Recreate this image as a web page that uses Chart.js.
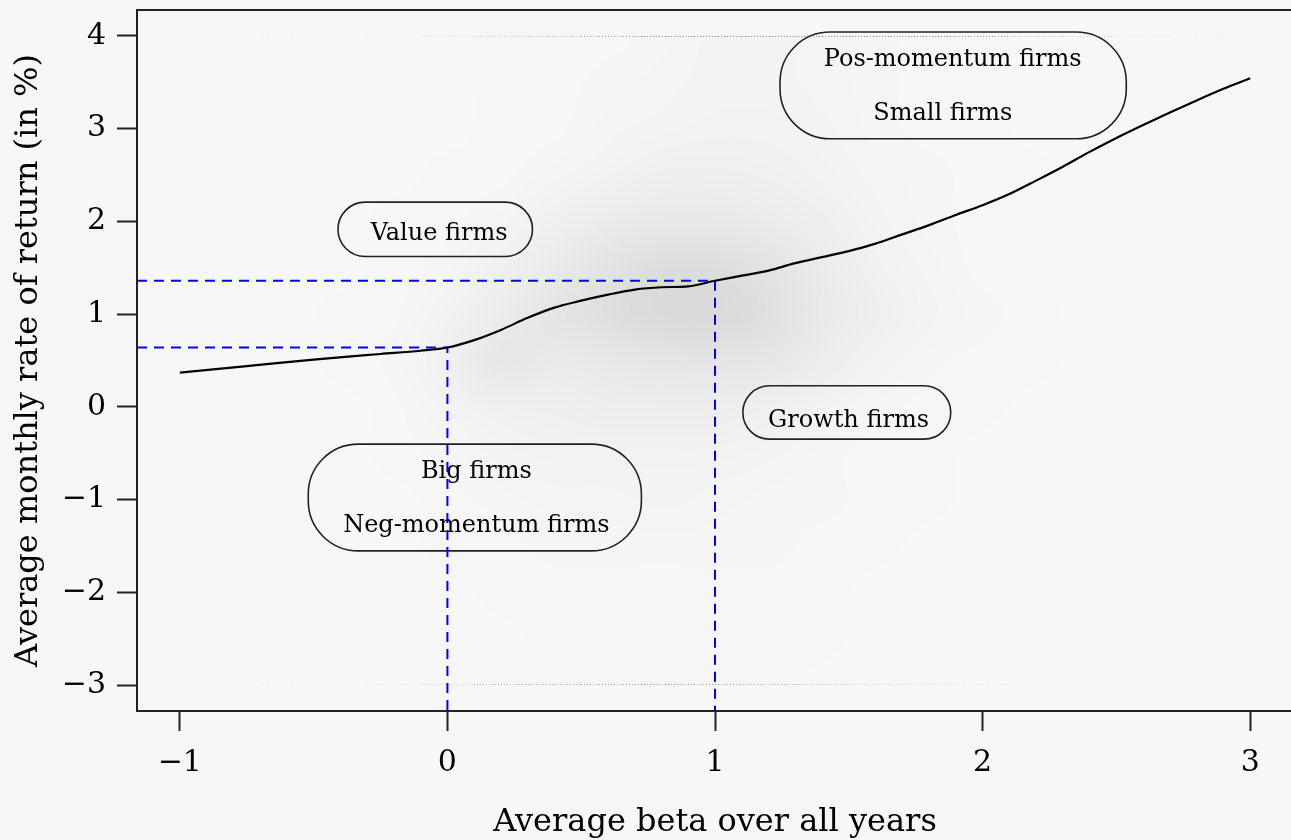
<!DOCTYPE html>
<html lang="en">
<head>
<meta charset="UTF-8">
<title>Average beta and average monthly return</title>
<style>
  html, body { margin: 0; padding: 0; background: #f7f7f7; overflow: hidden; }
  #wrap { width: 1300px; height: 840px; }
</style>
</head>
<body>
<div id="wrap"><canvas id="scatter" width="1300" height="840"></canvas></div>
<script src="https://cdn.jsdelivr.net/npm/chart.js@4.4.1/dist/chart.umd.min.js"></script>
<script>
const serif = '"DejaVu Serif", "Liberation Serif", serif'
const paper = 247

// axis limits (data range plus 4% on each side)
const xMin = -1.16, xMax = 3.16
const yMin = -3.28, yMax = 4.28
const xTicks = [-1, 0, 1, 2, 3]
const yTicks = [-3, -2, -1, 0, 1, 2, 3, 4]

// smoothed fit of return on beta
const curveBeta = [-1.0, -0.75, -0.5, -0.25, -0.1, 0.0, 0.1, 0.2, 0.3, 0.4, 0.5, 0.6, 0.7, 0.8, 0.9, 1.0,
  1.1, 1.2, 1.3, 1.4, 1.5, 1.6, 1.7, 1.8, 1.9, 2.0, 2.1, 2.2, 2.3, 2.4, 2.5, 2.6, 2.7, 2.8, 2.9, 3.0]
const curveReturn = [0.37, 0.44, 0.51, 0.57, 0.605, 0.64, 0.72, 0.83, 0.96, 1.07, 1.145, 1.21, 1.265, 1.29, 1.30, 1.36,
  1.415, 1.47, 1.55, 1.615, 1.68, 1.76, 1.86, 1.96, 2.07, 2.175, 2.295, 2.44, 2.59, 2.75, 2.90, 3.04, 3.175, 3.305, 3.43, 3.545]

// reference betas and the fitted return at each
const guideBeta = [0, 1]
const guideReturn = [0.64, 1.36]

// firm cloud: share of covered pixels (%) per cell, rows from top to bottom
const cloudBeta = [-1.0, -0.8, -0.6, -0.4, -0.2, 0.0, 0.2, 0.4, 0.6, 0.8, 1.0, 1.2, 1.4, 1.6, 1.8, 2.0, 2.2, 2.4, 2.6, 2.8, 3.0]
const cloudReturn = [4.0, 3.5, 3.0, 2.5, 2.0, 1.5, 1.0, 0.5, 0.0, -0.5, -1.0, -1.5, -2.0, -2.5, -3.0]
const cloudShare = [
  [0.1, 0.1, 0.2, 0.2, 0.2, 0.3, 0.5, 0.8, 1.2, 2.0, 3.0, 3.0, 2.2, 1.5, 1.0, 0.6, 0.4, 0.3, 0.2, 0.2, 0.1],
  [0.1, 0.1, 0.1, 0.2, 0.2, 0.3, 0.5, 0.8, 1.5, 2.5, 3.5, 3.5, 2.5, 1.6, 1.0, 0.6, 0.4, 0.3, 0.2, 0.1, 0.1],
  [0.1, 0.1, 0.1, 0.2, 0.2, 0.4, 0.7, 1.2, 2.2, 3.5, 4.5, 4.5, 3.2, 2.0, 1.2, 0.7, 0.4, 0.3, 0.2, 0.1, 0.1],
  [0.1, 0.1, 0.2, 0.2, 0.3, 0.6, 1.2, 2.5, 4.5, 6.5, 7.0, 6.0, 4.0, 2.5, 1.4, 0.8, 0.5, 0.3, 0.2, 0.1, 0.1],
  [0.1, 0.1, 0.2, 0.3, 0.5, 1.0, 2.5, 6.0, 10, 13, 13, 10, 6.5, 3.5, 2.0, 1.0, 0.6, 0.3, 0.2, 0.1, 0.1],
  [0.1, 0.2, 0.2, 0.4, 0.8, 2.0, 5.5, 11, 17, 22, 22, 17, 10, 5.0, 2.5, 1.2, 0.6, 0.3, 0.2, 0.1, 0.1],
  [0.1, 0.2, 0.3, 0.5, 1.2, 4.0, 9.0, 16, 21, 25, 25, 20, 12, 6.5, 3.0, 1.3, 0.6, 0.3, 0.2, 0.1, 0.1],
  [0.1, 0.2, 0.3, 0.6, 1.5, 6.0, 15, 11, 13, 15, 16, 14, 8.5, 4.0, 2.0, 1.0, 0.5, 0.3, 0.2, 0.1, 0.1],
  [0.1, 0.1, 0.2, 0.4, 1.0, 3.0, 6.0, 7.0, 8.0, 8.5, 8.0, 6.0, 4.0, 2.0, 1.0, 0.6, 0.3, 0.2, 0.1, 0.1, 0.1],
  [0.1, 0.1, 0.1, 0.2, 0.5, 1.5, 3.0, 4.0, 4.5, 4.5, 4.0, 3.0, 2.0, 1.2, 0.7, 0.4, 0.2, 0.1, 0.1, 0.1, 0.1],
  [0.1, 0.1, 0.1, 0.2, 0.3, 0.8, 1.5, 2.2, 2.8, 3.0, 2.5, 2.0, 1.4, 0.9, 0.5, 0.3, 0.2, 0.1, 0.1, 0.1, 0.1],
  [0.1, 0.1, 0.1, 0.1, 0.2, 0.5, 1.0, 1.5, 1.8, 2.0, 1.8, 1.4, 1.0, 0.6, 0.4, 0.2, 0.1, 0.1, 0.1, 0.1, 0.1],
  [0.1, 0.1, 0.1, 0.1, 0.2, 0.3, 0.6, 0.9, 1.1, 1.2, 1.1, 0.9, 0.7, 0.4, 0.3, 0.2, 0.1, 0.1, 0.1, 0.1, 0.1],
  [0.1, 0.1, 0.1, 0.1, 0.1, 0.2, 0.4, 0.6, 0.7, 0.8, 0.8, 0.6, 0.5, 0.3, 0.2, 0.1, 0.1, 0.1, 0.1, 0.1, 0.1],
  [0.1, 0.1, 0.1, 0.1, 0.1, 0.2, 0.3, 0.5, 0.6, 0.7, 0.6, 0.5, 0.4, 0.3, 0.2, 0.1, 0.1, 0.1, 0.1, 0.1, 0.1]
]
// firms cut off at the upper (4%) and lower (-3%) limits, share per beta cell (%)
const edgeTop = [1, 2, 3, 3, 4, 6, 10, 14, 20, 30, 35, 35, 30, 28, 25, 20, 12, 8, 5, 3, 2]
const edgeBottom = [2, 2, 3, 3, 4, 8, 14, 18, 20, 22, 20, 16, 12, 8, 6, 4, 2, 2, 1, 1, 1]

// labelled groups: box corners and text baselines in data units
const notes = [
  { box: [1.243, 4.042, 2.537, 2.891], lines: [['Pos-momentum firms', 1.888, 3.671], ['Small firms', 1.851, 3.096]] },
  { box: [-0.409, 2.208, 0.318, 1.622], lines: [['Value firms', -0.031, 1.801]] },
  { box: [1.104, 0.227, 1.881, -0.348], lines: [['Growth firms', 1.499, -0.213]] },
  { box: [-0.520, -0.402, 0.725, -1.553], lines: [['Big firms', 0.108, -0.769], ['Neg-momentum firms', 0.108, -1.345]] }
]

const fmt = v => (v < 0 ? '\u2212' + Math.abs(v) : String(v))

const cloudPlugin = {
  id: 'cloud',
  beforeDatasetsDraw(chart) {
    const { ctx, scales: { x, y } } = chart
    const halfX = (cloudBeta[1] - cloudBeta[0]) / 2
    const halfY = (cloudReturn[0] - cloudReturn[1]) / 2

    // one pixel per cell, stretched smoothly over the cloud's extent
    const grid = document.createElement('canvas')
    grid.width = cloudBeta.length
    grid.height = cloudReturn.length
    const g = grid.getContext('2d')
    cloudReturn.forEach((r, i) => {
      cloudBeta.forEach((b, j) => {
        const c = Math.round(paper - (paper - 128) * cloudShare[i][j] / 100)
        g.fillStyle = 'rgb(' + c + ',' + c + ',' + c + ')'
        g.fillRect(j, i, 1, 1)
      })
    })
    const gx0 = x.getPixelForValue(cloudBeta[0] - halfX)
    const gx1 = x.getPixelForValue(cloudBeta[cloudBeta.length - 1] + halfX)
    const gy0 = y.getPixelForValue(cloudReturn[0] + halfY)
    const gy1 = y.getPixelForValue(cloudReturn[cloudReturn.length - 1] - halfY)

    const left = x.getPixelForValue(-1), right = x.getPixelForValue(3)
    const top = y.getPixelForValue(4), bottom = y.getPixelForValue(-3)
    ctx.save()
    ctx.beginPath()
    ctx.rect(left - 1, top - 1, right - left + 2, bottom - top + 2)
    ctx.clip()
    ctx.imageSmoothingEnabled = true
    ctx.imageSmoothingQuality = 'high'
    ctx.filter = 'blur(6px)'
    ctx.drawImage(grid, gx0, gy0, gx1 - gx0, gy1 - gy0)
    ctx.filter = 'none'
    // rows of clipped firms along the limits
    ctx.setLineDash([1, 2])
    ctx.lineWidth = 1
    cloudBeta.forEach((b, j) => {
      const x0 = x.getPixelForValue(Math.max(b - halfX, -1)), x1 = x.getPixelForValue(Math.min(b + halfX, 3))
      ctx.strokeStyle = 'rgba(128,128,128,' + Math.min(1, edgeTop[j] / 25) + ')'
      ctx.beginPath(); ctx.moveTo(x0, top + 0.5); ctx.lineTo(x1, top + 0.5); ctx.stroke()
      ctx.strokeStyle = 'rgba(128,128,128,' + Math.min(1, edgeBottom[j] / 25) + ')'
      ctx.beginPath(); ctx.moveTo(x0, bottom - 0.5); ctx.lineTo(x1, bottom - 0.5); ctx.stroke()
    })
    ctx.restore()

    // group labels
    ctx.save()
    ctx.strokeStyle = '#222'
    ctx.lineWidth = 1.6
    ctx.fillStyle = '#000'
    ctx.font = '24px ' + serif
    ctx.textAlign = 'center'
    ctx.textBaseline = 'alphabetic'
    notes.forEach(n => {
      const bx0 = x.getPixelForValue(n.box[0]), by0 = y.getPixelForValue(n.box[1])
      const bx1 = x.getPixelForValue(n.box[2]), by1 = y.getPixelForValue(n.box[3])
      const h = by1 - by0
      ctx.beginPath()
      ctx.roundRect(bx0, by0, bx1 - bx0, h, Math.min(h / 2, 50))
      ctx.stroke()
      n.lines.forEach(([text, tx, ty]) => ctx.fillText(text, x.getPixelForValue(tx), y.getPixelForValue(ty)))
    })
    ctx.restore()
  }
}

const framePlugin = {
  id: 'frame',
  afterDraw(chart) {
    const { ctx, chartArea: a } = chart
    ctx.save()
    ctx.strokeStyle = '#222'
    ctx.lineWidth = 2
    ctx.strokeRect(a.left, a.top, a.right - a.left, a.bottom - a.top)
    ctx.restore()
  }
}

const guideSets = guideBeta.map((b, i) => ({
  type: 'line',
  data: [{ x: xMin, y: guideReturn[i] }, { x: b, y: guideReturn[i] }, { x: b, y: yMin }],
  borderColor: '#0000ff',
  borderWidth: 2,
  borderDash: [10, 7],
  pointRadius: 0,
  tension: 0,
  fill: false
}))

const curveSet = {
  type: 'line',
  data: curveBeta.map((b, i) => ({ x: b, y: curveReturn[i] })),
  borderColor: '#000',
  borderWidth: 2.2,
  pointRadius: 0,
  cubicInterpolationMode: 'monotone',
  fill: false
}

const axisFont = { family: serif, size: 30 }
const titleFont = { family: serif, size: 32, lineHeight: 1.1 }
const noPadding = s => { s.paddingTop = 0; s.paddingBottom = 0; s.paddingLeft = 0; s.paddingRight = 0 }

new Chart(document.getElementById('scatter'), {
  type: 'scatter',
  data: { datasets: [curveSet, ...guideSets] },
  options: {
    responsive: false,
    animation: false,
    events: [],
    layout: { padding: { top: 10, right: 7, left: 0, bottom: 0 } },
    plugins: { legend: { display: false }, tooltip: { enabled: false } },
    scales: {
      x: {
        type: 'linear', min: xMin, max: xMax,
        afterBuildTicks: s => { s.ticks = xTicks.map(v => ({ value: v })) },
        afterFit: s => { s.height = 129; noPadding(s) },
        grid: { drawOnChartArea: false, drawTicks: true, tickLength: 20, tickWidth: 2, tickColor: '#222' },
        border: { display: false },
        ticks: { color: '#000', font: axisFont, padding: 14, maxRotation: 0, autoSkip: false, callback: fmt },
        title: { display: true, text: 'Average beta over all years', color: '#000', font: titleFont, padding: { top: 0, bottom: 0 } }
      },
      y: {
        type: 'linear', min: yMin, max: yMax,
        afterBuildTicks: s => { s.ticks = yTicks.map(v => ({ value: v })) },
        afterFit: s => { s.width = 137; noPadding(s) },
        grid: { drawOnChartArea: false, drawTicks: true, tickLength: 20, tickWidth: 2, tickColor: '#222' },
        border: { display: false },
        ticks: { color: '#000', font: axisFont, padding: 11, autoSkip: false, callback: fmt },
        title: { display: true, text: 'Average monthly rate of return (in %)', color: '#000', font: titleFont, padding: { top: 11, bottom: 0 } }
      }
    }
  },
  plugins: [cloudPlugin, framePlugin]
})
</script>
</body>
</html>
